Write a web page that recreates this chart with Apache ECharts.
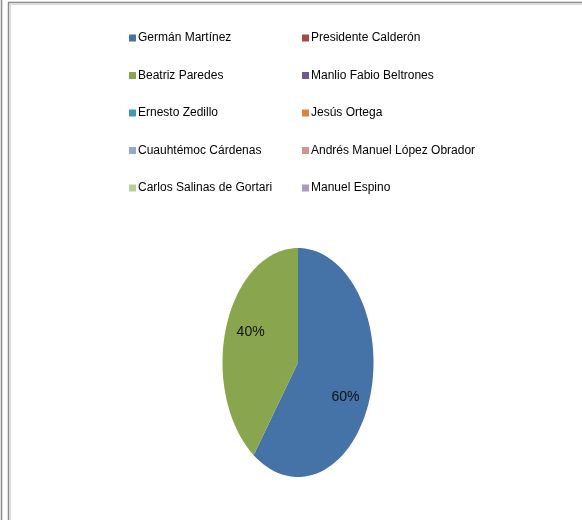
<!DOCTYPE html>
<html>
<head>
<meta charset="utf-8">
<script src="https://cdn.jsdelivr.net/npm/echarts@6/dist/echarts.min.js"></script>
<style>
html,body{margin:0;padding:0;background:#fff;}
#chart{width:582px;height:520px;}
</style>
</head>
<body>
<div id="chart"></div>
<script>
var names = ['Germán Martínez','Presidente Calderón','Beatriz Paredes','Manlio Fabio Beltrones','Ernesto Zedillo','Jesús Ortega','Cuauhtémoc Cárdenas','Andrés Manuel López Obrador','Carlos Salinas de Gortari','Manuel Espino'];
var values = [60, 0, 40, 0, 0, 0, 0, 0, 0, 0];
var colors = ['#4572A7','#AA4643','#89A54E','#71588F','#4198AF','#DB843D','#93A9CF','#D19392','#B9CD96','#A99BBD'];

var total = values.reduce(function(a,b){return a+b;},0);
var starts = [];
var acc = 0;
for (var i=0;i<values.length;i++){ starts.push(acc); acc += values[i]; }

var CX = 298, CY = 362.5, RX = 75.5, RY = 114.5, LF = 0.66;
var FONT = '"Liberation Sans", Arial, sans-serif';

function makeRender(idx){
  return function(params, api){
    var v = api.value(0);
    if (!v) return {type:'group', children:[]};
    var a0 = starts[idx]/total*2*Math.PI;
    var a1 = (starts[idx]+v)/total*2*Math.PI;
    var pts = [[CX,CY]];
    var n = 120;
    for (var k=0;k<=n;k++){
      var a = a0 + (a1-a0)*k/n;
      pts.push([CX + RX*Math.sin(a), CY - RY*Math.cos(a)]);
    }
    var am = (a0+a1)/2;
    var pct = Math.round(v/total*100) + '%';
    return {
      type:'group',
      children:[
        {type:'polygon', shape:{points:pts}, style:{fill:colors[idx], stroke:null}},
        {type:'text', x: CX + LF*RX*Math.sin(am), y: CY - LF*RY*Math.cos(am) + (Math.cos(am) < 0 ? 11 : -7),
         style:{text:pct, fill:'#111', font:'14px ' + FONT, align:'center', verticalAlign:'middle'}}
      ]
    };
  };
}

var series = names.map(function(nm, i){
  return {
    type:'custom', name:nm, coordinateSystem:'none',
    itemStyle:{color:colors[i]},
    renderItem: makeRender(i),
    data:[[values[i]]],
    silent:true
  };
});

var leftNames = names.filter(function(_,i){return i%2===0;});
var rightNames = names.filter(function(_,i){return i%2===1;});
var legendCommon = {
  orient:'vertical', top:26, itemWidth:7, itemHeight:7, itemGap:23.5, icon:'rect',
  selectedMode:false,
  textStyle:{fontFamily:FONT, fontSize:12, color:'#000', lineHeight:14, padding:[0,0,0,-3]}
};

var chart = echarts.init(document.getElementById('chart'), null, {renderer:'canvas'});
chart.setOption({
  animation:false,
  backgroundColor:'#fff',
  legend:[
    Object.assign({left:124, data:leftNames}, legendCommon),
    Object.assign({left:297, data:rightNames}, legendCommon)
  ],
  graphic:[
    {type:'line', shape:{x1:1.5,y1:0,x2:1.5,y2:520}, style:{stroke:'#8a8a8a', lineWidth:1.5}},
    {type:'line', shape:{x1:8.5,y1:2.5,x2:8.5,y2:520}, style:{stroke:'#8a8a8a', lineWidth:1.5}},
    {type:'line', shape:{x1:8,y1:2.5,x2:582,y2:2.5}, style:{stroke:'#8a8a8a', lineWidth:1.5}},
    {type:'line', shape:{x1:10,y1:4.5,x2:582,y2:4.5}, style:{stroke:'#d8d8d8', lineWidth:1}},
    {type:'line', shape:{x1:10.5,y1:4,x2:10.5,y2:520}, style:{stroke:'#d8d8d8', lineWidth:1}}
  ],
  series: series
});
</script>
</body>
</html>
